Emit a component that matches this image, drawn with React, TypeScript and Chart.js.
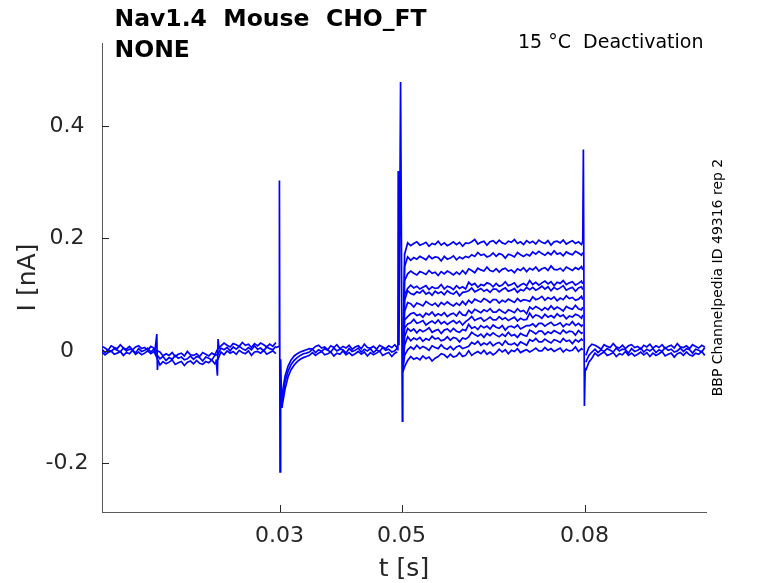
import React, { useEffect, useRef } from "react";
import { Chart, registerables } from "chart.js";
Chart.register(...registerables);

// ---- axis ticks ----
const xTicks = [0.03, 0.05, 0.08];
const yTicks = [-0.2, 0, 0.2, 0.4];

// ---- baseline before 0.03 s (three overlapping sweeps) ----
const tPreA = [
  0.0009, 0.0014, 0.0019, 0.0024, 0.0029, 0.0034, 0.0039, 0.0044, 0.0049, 0.0054, 0.0059, 0.0064, 0.0069, 0.0074, 0.0079, 0.0084, 0.0089, 0.0094,
  0.0099,
  0.0104, 0.0109, 0.0114, 0.0119, 0.0124, 0.0129, 0.0134, 0.0139, 0.0144, 0.0149, 0.0154, 0.0159, 0.0164, 0.0169, 0.0174, 0.0179, 0.0184, 0.0189, 0.0194,
  0.0199,
  0.0204, 0.0209, 0.0214, 0.0219, 0.0224, 0.0229, 0.0234, 0.0239, 0.0244, 0.0249, 0.0254, 0.0259, 0.0264, 0.0269, 0.0274, 0.0279, 0.0284, 0.0289, 0.0294,
];
const preA1 = [
  -0.002, -0.007, -0.003, 0.0, -0.006, -0.004, -0.001, -0.008, -0.003, -0.005, 0.001, -0.006, -0.002, -0.007, -0.004, 0.0, -0.005, -0.001,
  -0.012,
  -0.025, -0.019, -0.023, -0.02, -0.016, -0.024, -0.021, -0.019, -0.026, -0.02, -0.018, -0.023, -0.017, -0.022, -0.024, -0.019, -0.021, -0.016, -0.023,
  -0.015,
  -0.002, -0.007, 0.0, -0.004, -0.001, -0.006, 0.001, -0.003, -0.005, 0.0, -0.008, -0.002, -0.001, -0.004, 0.001, -0.006, -0.003, 0.0, -0.005,
];
const preA2 = [
  0.003, -0.003, 0.002, -0.001, 0.004, 0.001, -0.002, 0.005, 0.0, 0.003, 0.002, -0.004, 0.004, -0.001, 0.001, 0.005, -0.002, 0.003,
  -0.007,
  -0.014, -0.01, -0.017, -0.012, -0.015, -0.008, -0.013, -0.011, -0.016, -0.014, -0.009, -0.015, -0.01, -0.012, -0.018, -0.011, -0.013, -0.016, -0.008,
  -0.006,
  0.005, 0.002, 0.006, 0.0, 0.007, 0.003, 0.008, 0.004, 0.001, 0.006, 0.002, 0.009, 0.003, 0.005, 0.0, 0.007, 0.004, 0.002, 0.008,
];
const preA3 = [
  0.008, 0.005, 0.001, 0.009, 0.006, 0.004, 0.011, 0.005, 0.003, 0.008, 0.002, 0.007, 0.009, 0.004, 0.006, 0.001, 0.008, 0.005,
  0.0,
  -0.002, -0.009, -0.005, -0.008, -0.003, -0.01, -0.006, -0.004, -0.009, -0.001, -0.007, -0.008, -0.005, -0.01, -0.003, -0.006, -0.009, -0.004, -0.007,
  0.004,
  0.009, 0.014, 0.01, 0.007, 0.013, 0.011, 0.008, 0.015, 0.01, 0.012, 0.006, 0.013, 0.009, 0.014, 0.011, 0.007, 0.012, 0.008, 0.015,
];

// ---- small artefacts at 0.01 s and 0.02 s ----
const blip10T = [0.0096, 0.00988, 0.00998, 0.0101];
const blip10V = [0.002, 0.03, -0.034, -0.016];
const blip20T = [0.0196, 0.01982, 0.01992, 0.0201];
const blip20V = [-0.015, -0.044, 0.021, 0.003];

// ---- capacitive transient at 0.03 s ----
const spike30T = [0.0294, 0.02995, 0.02998, 0.03008, 0.03018, 0.03036, 0.0304];
const spike30V = [0.006, 0.008, 0.303, -0.215, -0.015, -0.1, -0.095];

// ---- recovery and baseline 0.03 - 0.05 s ----
const tPreB = [
  0.0304, 0.0309, 0.0314, 0.0319, 0.0324, 0.0329, 0.0334, 0.0339, 0.0344, 0.0349,
  0.0354, 0.0359, 0.0364, 0.0369, 0.0374, 0.0379, 0.0384, 0.0389, 0.0394, 0.0399,
  0.0404, 0.0409, 0.0414, 0.0419, 0.0424, 0.0429, 0.0434, 0.0439, 0.0444, 0.0449,
  0.0454, 0.0459, 0.0464, 0.0469, 0.0474, 0.0479, 0.0484, 0.0489, 0.0493,
];
const preB1 = [
  -0.1, -0.068, -0.046, -0.033, -0.025, -0.019, -0.015, -0.012, -0.01, -0.008,
  -0.003, -0.008, -0.004, -0.001, -0.007, -0.005, -0.002, -0.009, -0.004, -0.006,
  0.0, -0.007, -0.003, -0.008, -0.005, -0.001, -0.006, -0.002, -0.009, -0.003,
  -0.007, -0.004, 0.0, -0.008, -0.005, -0.003, -0.01, -0.004, -0.002,
];
const preB2 = [
  -0.09, -0.055, -0.036, -0.024, -0.017, -0.012, -0.008, -0.005, -0.004, -0.002,
  0.003, -0.003, 0.002, -0.001, 0.004, 0.001, -0.002, 0.005, 0.0, 0.003,
  0.002, -0.004, 0.004, -0.001, 0.001, 0.005, -0.002, 0.003, 0.0, 0.004,
  -0.003, 0.002, -0.001, 0.006, 0.001, 0.003, -0.002, 0.0, 0.005,
];
const preB3 = [
  -0.08, -0.045, -0.027, -0.016, -0.009, -0.005, -0.002, 0.0, 0.002, 0.004,
  0.003, 0.008, 0.01, 0.005, 0.007, 0.002, 0.009, 0.006, 0.011, 0.004,
  0.008, 0.005, 0.01, 0.003, 0.007, 0.009, 0.004, 0.012, 0.006, 0.005,
  0.008, 0.003, 0.01, 0.007, 0.004, 0.009, 0.006, 0.011, 0.005,
];

// ---- transient at 0.05 s ----
const spike50T = [0.0493, 0.0494, 0.04945, 0.04958, 0.04984, 0.05013, 0.0502];
const spike50V = [0.002, 0.004, 0.32, 0.01, 0.478, -0.125, -0.03];

// ---- deactivation step 0.05 - 0.08 s (12 sweeps) ----
const tStep = [
  0.0502, 0.0505,
  0.051, 0.0515, 0.052, 0.0525, 0.053, 0.0535, 0.054, 0.0545, 0.055, 0.0555,
  0.056, 0.0565, 0.057, 0.0575, 0.058, 0.0585, 0.059, 0.0595, 0.06, 0.0605,
  0.061, 0.0615, 0.062, 0.0625, 0.063, 0.0635, 0.064, 0.0645, 0.065, 0.0655,
  0.066, 0.0665, 0.067, 0.0675, 0.068, 0.0685, 0.069, 0.0695, 0.07, 0.0705,
  0.071, 0.0715, 0.072, 0.0725, 0.073, 0.0735, 0.074, 0.0745, 0.075, 0.0755,
  0.076, 0.0765, 0.077, 0.0775, 0.078, 0.0785, 0.079, 0.0795, 0.0797,
];
const sweep1 = [
  -0.03, 0.172,
  0.192, 0.187, 0.191, 0.194, 0.188, 0.19, 0.193, 0.186, 0.191, 0.189,
  0.195, 0.188, 0.192, 0.187, 0.19, 0.194, 0.189, 0.193, 0.186, 0.192,
  0.191, 0.194, 0.198, 0.19, 0.193, 0.195, 0.188, 0.194, 0.196, 0.191,
  0.197, 0.192, 0.19, 0.195, 0.193, 0.198, 0.191, 0.194, 0.189, 0.196,
  0.192, 0.195, 0.19, 0.197, 0.193, 0.191, 0.196, 0.188, 0.194, 0.195,
  0.192, 0.197, 0.19, 0.193, 0.196, 0.191, 0.194, 0.189, 0.195,
];
const sweep2 = [
  -0.03, 0.15,
  0.167, 0.161, 0.166, 0.163, 0.168, 0.165, 0.162, 0.169, 0.164, 0.167,
  0.166, 0.16, 0.168, 0.163, 0.165, 0.169, 0.162, 0.167, 0.164, 0.168,
  0.166, 0.171, 0.168, 0.175, 0.17, 0.172, 0.167, 0.169, 0.174, 0.168,
  0.173, 0.171, 0.165, 0.172, 0.17, 0.167, 0.175, 0.171, 0.168, 0.172,
  0.169, 0.176, 0.172, 0.177, 0.173, 0.17, 0.175, 0.171, 0.178, 0.172,
  0.174, 0.169, 0.176, 0.173, 0.171, 0.177, 0.174, 0.17, 0.175,
];
const sweep3 = [
  -0.03, 0.125,
  0.137, 0.142, 0.138, 0.135, 0.141, 0.139, 0.136, 0.143, 0.138, 0.14,
  0.134, 0.141, 0.137, 0.142, 0.139, 0.135, 0.14, 0.136, 0.143, 0.137,
  0.146, 0.143, 0.139, 0.147, 0.144, 0.142, 0.149, 0.143, 0.141, 0.146,
  0.14, 0.145, 0.147, 0.142, 0.144, 0.139, 0.146, 0.143, 0.148, 0.141,
  0.147, 0.144, 0.149, 0.142, 0.146, 0.148, 0.143, 0.151, 0.145, 0.144,
  0.147, 0.142, 0.149, 0.146, 0.143, 0.148, 0.145, 0.15, 0.144,
];
const sweep4 = [
  -0.03, 0.1,
  0.111, 0.117, 0.112, 0.115, 0.11, 0.113, 0.116, 0.109, 0.114, 0.111,
  0.112, 0.118, 0.11, 0.115, 0.113, 0.109, 0.116, 0.111, 0.114, 0.11,
  0.122, 0.117, 0.12, 0.113, 0.118, 0.116, 0.121, 0.119, 0.114, 0.12,
  0.115, 0.117, 0.123, 0.116, 0.118, 0.121, 0.113, 0.117, 0.12, 0.116,
  0.125, 0.118, 0.122, 0.117, 0.121, 0.124, 0.119, 0.123, 0.116, 0.122,
  0.12, 0.125, 0.118, 0.121, 0.123, 0.117, 0.12, 0.124, 0.119,
];
const sweep5 = [
  -0.03, 0.09,
  0.107, 0.102, 0.1, 0.105, 0.103, 0.108, 0.101, 0.104, 0.099, 0.106,
  0.102, 0.105, 0.1, 0.107, 0.103, 0.101, 0.106, 0.098, 0.104, 0.105,
  0.107, 0.112, 0.105, 0.108, 0.111, 0.106, 0.109, 0.104, 0.11, 0.11,
  0.105, 0.109, 0.112, 0.106, 0.108, 0.111, 0.104, 0.109, 0.107, 0.113,
  0.109, 0.113, 0.108, 0.111, 0.115, 0.11, 0.114, 0.107, 0.113, 0.109,
  0.112, 0.116, 0.108, 0.111, 0.113, 0.106, 0.112, 0.114, 0.109,
];
const sweep6 = [
  -0.03, 0.07,
  0.086, 0.084, 0.078, 0.085, 0.083, 0.08, 0.088, 0.084, 0.081, 0.085,
  0.079, 0.086, 0.082, 0.087, 0.083, 0.08, 0.085, 0.081, 0.088, 0.082,
  0.09, 0.085, 0.092, 0.089, 0.087, 0.093, 0.09, 0.086, 0.091, 0.091,
  0.085, 0.09, 0.087, 0.092, 0.089, 0.086, 0.093, 0.088, 0.091, 0.09,
  0.088, 0.096, 0.091, 0.093, 0.097, 0.09, 0.095, 0.092, 0.096, 0.089,
  0.094, 0.091, 0.098, 0.093, 0.095, 0.09, 0.092, 0.097, 0.091,
];
const sweep7 = [
  -0.03, 0.055,
  0.061, 0.066, 0.068, 0.063, 0.065, 0.06, 0.067, 0.064, 0.069, 0.062,
  0.066, 0.063, 0.068, 0.061, 0.065, 0.067, 0.062, 0.07, 0.064, 0.063,
  0.072, 0.067, 0.074, 0.071, 0.068, 0.073, 0.07, 0.075, 0.069, 0.069,
  0.074, 0.07, 0.067, 0.073, 0.071, 0.068, 0.075, 0.07, 0.072, 0.066,
  0.078, 0.074, 0.079, 0.076, 0.072, 0.077, 0.073, 0.08, 0.074, 0.078,
  0.075, 0.071, 0.079, 0.076, 0.074, 0.081, 0.075, 0.073, 0.078,
];
const sweep8 = [
  -0.03, 0.04,
  0.048, 0.05, 0.056, 0.049, 0.051, 0.054, 0.046, 0.05, 0.053, 0.049,
  0.055, 0.048, 0.052, 0.047, 0.051, 0.054, 0.049, 0.053, 0.046, 0.052,
  0.056, 0.061, 0.054, 0.057, 0.059, 0.053, 0.056, 0.06, 0.055, 0.055,
  0.061, 0.056, 0.059, 0.054, 0.057, 0.06, 0.053, 0.058, 0.055, 0.056,
  0.067, 0.059, 0.064, 0.062, 0.058, 0.065, 0.06, 0.063, 0.059, 0.066,
  0.061, 0.064, 0.057, 0.062, 0.06, 0.065, 0.063, 0.058, 0.064,
];
const sweep9 = [
  -0.032, 0.025,
  0.04, 0.035, 0.039, 0.032, 0.038, 0.034, 0.037, 0.041, 0.033, 0.036,
  0.038, 0.031, 0.037, 0.039, 0.034, 0.04, 0.035, 0.033, 0.038, 0.036,
  0.047, 0.04, 0.043, 0.038, 0.045, 0.041, 0.044, 0.039, 0.046, 0.042,
  0.04, 0.045, 0.037, 0.043, 0.044, 0.041, 0.046, 0.039, 0.042, 0.045,
  0.045, 0.048, 0.043, 0.049, 0.049, 0.044, 0.048, 0.051, 0.045, 0.047,
  0.05, 0.043, 0.048, 0.046, 0.052, 0.045, 0.049, 0.044, 0.047,
];
const sweep10 = [
  -0.033, 0.01,
  0.025, 0.018, 0.023, 0.02, 0.024, 0.017, 0.022, 0.019, 0.026, 0.021,
  0.023, 0.018, 0.02, 0.025, 0.019, 0.024, 0.022, 0.016, 0.023, 0.021,
  0.025, 0.033, 0.029, 0.026, 0.03, 0.024, 0.031, 0.027, 0.032, 0.028,
  0.025, 0.03, 0.026, 0.033, 0.027, 0.029, 0.024, 0.031, 0.028, 0.026,
  0.037, 0.034, 0.03, 0.035, 0.035, 0.029, 0.034, 0.031, 0.036, 0.033,
  0.03, 0.037, 0.032, 0.035, 0.034, 0.028, 0.036, 0.031, 0.033,
];
const sweep11 = [
  -0.035, -0.008,
  0.002, 0.007, 0.003, 0.01, 0.004, 0.008, 0.005, 0.001, 0.009, 0.006,
  0.004, 0.011, 0.005, 0.003, 0.008, 0.002, 0.007, 0.009, 0.004, 0.006,
  0.008, 0.015, 0.012, 0.017, 0.01, 0.014, 0.011, 0.016, 0.009, 0.013,
  0.015, 0.01, 0.018, 0.012, 0.011, 0.014, 0.009, 0.016, 0.013, 0.01,
  0.02, 0.017, 0.022, 0.016, 0.016, 0.021, 0.017, 0.014, 0.02, 0.018,
  0.015, 0.022, 0.017, 0.019, 0.013, 0.02, 0.016, 0.021, 0.018,
];
const sweep12 = [
  -0.038, -0.028,
  -0.017, -0.01, -0.015, -0.012, -0.016, -0.009, -0.014, -0.011, -0.018, -0.013,
  -0.01, -0.005, -0.007, -0.012, -0.006, -0.011, -0.009, -0.003, -0.01, -0.008,
  0.0, -0.008, -0.004, -0.001, -0.005, 0.001, -0.006, -0.002, -0.007, -0.003,
  0.003, -0.002, 0.002, -0.005, 0.001, -0.001, 0.004, -0.003, 0.0, 0.002,
  -0.002, 0.001, 0.005, 0.0, 0.0, 0.006, 0.001, 0.004, -0.001, 0.002,
  0.005, -0.002, 0.003, 0.0, 0.001, 0.007, -0.001, 0.004, 0.002,
];

// ---- transient at 0.08 s ----
const spike80T = [0.0797, 0.0798, 0.07997, 0.0801];
const spike80V = [0.193, 0.358, -0.098, -0.03];

// ---- baseline after 0.08 s (three overlapping sweeps) ----
const tPost = [
  0.0802, 0.0807, 0.0812, 0.0817, 0.0822, 0.0827, 0.0832, 0.0837, 0.0842, 0.0847,
  0.0852, 0.0857, 0.0862, 0.0867, 0.0872, 0.0877, 0.0882, 0.0887, 0.0892, 0.0897,
  0.0902, 0.0907, 0.0912, 0.0917, 0.0922, 0.0927, 0.0932, 0.0937, 0.0942, 0.0947,
  0.0952, 0.0957, 0.0962, 0.0967, 0.0972, 0.0977, 0.0982, 0.0987, 0.0992, 0.0997,
];
const post1 = [
  -0.035, -0.02, -0.013,
  -0.004, -0.009, -0.005, -0.002, -0.008, -0.006, -0.003, -0.01, -0.005, -0.007,
  -0.001, -0.008, -0.004, -0.009, -0.006, -0.002, -0.007, -0.003, -0.01, -0.004,
  -0.008, -0.005, -0.001, -0.009, -0.006, -0.004, -0.011, -0.005, -0.003, -0.008,
  -0.002, -0.007, -0.009, -0.004, -0.006, -0.001, -0.008,
];
const post2 = [
  -0.02, -0.008, -0.002,
  0.003, -0.003, 0.002, -0.001, 0.004, 0.001, -0.002, 0.005, 0.0, 0.003,
  0.002, -0.004, 0.004, -0.001, 0.001, 0.005, -0.002, 0.003, 0.0, 0.004,
  -0.003, 0.002, -0.001, 0.006, 0.001, 0.003, -0.002, 0.0, 0.005, -0.001,
  0.004, 0.002, -0.004, 0.003, 0.001, -0.002, 0.006,
];
const post3 = [
  -0.008, 0.006, 0.012,
  0.01, 0.007, 0.003, 0.011, 0.008, 0.006, 0.013, 0.007, 0.005, 0.01,
  0.004, 0.009, 0.011, 0.006, 0.008, 0.003, 0.01, 0.007, 0.012, 0.005,
  0.009, 0.006, 0.011, 0.004, 0.008, 0.01, 0.005, 0.013, 0.007, 0.006,
  0.009, 0.004, 0.011, 0.008, 0.005, 0.01, 0.007,
];

const BLUE = "#0000ff";
const AXIS = "#262626";
const FONT = "DejaVu Sans";

const line = (t: number[], v: number[]) => ({
  data: t.slice(0, Math.min(t.length, v.length)).map((x, i) => ({ x, y: v[i] })),
  borderColor: BLUE,
  backgroundColor: BLUE,
  borderWidth: 1.7,
  pointRadius: 0,
  fill: false,
  tension: 0,
});

const decor = {
  id: "decor",
  afterDraw(chart: any) {
    const { ctx, chartArea: a, scales } = chart;
    ctx.save();
    // inward tick marks
    ctx.strokeStyle = AXIS;
    ctx.lineWidth = 1;
    ctx.beginPath();
    xTicks.forEach((v) => {
      const px = Math.round(scales.x.getPixelForValue(v)) + 0.5;
      ctx.moveTo(px, a.bottom);
      ctx.lineTo(px, a.bottom - 7);
    });
    yTicks.forEach((v) => {
      const py = Math.round(scales.y.getPixelForValue(v)) + 0.5;
      ctx.moveTo(a.left, py);
      ctx.lineTo(a.left + 7, py);
    });
    ctx.stroke();

    // title
    ctx.fillStyle = "#000";
    ctx.textAlign = "left";
    ctx.textBaseline = "alphabetic";
    ctx.font = `bold 23.5px "${FONT}"`;
    ctx.fillText("Nav1.4  Mouse  CHO_FT", 114.5, 26);
    ctx.fillText("NONE", 114.5, 56.5);

    ctx.font = `19px "${FONT}"`;
    ctx.textAlign = "right";
    ctx.fillText("15 °C  Deactivation", 703.5, 47.5);

    // axis titles
    ctx.fillStyle = AXIS;
    ctx.font = `25px "${FONT}"`;
    ctx.textAlign = "center";
    ctx.fillText("t [s]", (a.left + a.right) / 2, 576);

    ctx.save();
    ctx.translate(35, (a.top + a.bottom) / 2);
    ctx.rotate(-Math.PI / 2);
    ctx.fillText("I [nA]", 0, 0);
    ctx.restore();

    // side note
    ctx.save();
    ctx.fillStyle = "#000";
    ctx.font = `14px "${FONT}"`;
    ctx.translate(721.5, 277.5);
    ctx.rotate(-Math.PI / 2);
    ctx.textAlign = "center";
    ctx.fillText("BBP Channelpedia ID 49316 rep 2", 0, 0);
    ctx.restore();

    ctx.restore();
  },
};

export default function App() {
  const ref = useRef<HTMLCanvasElement>(null);
  useEffect(() => {
    const canvas = ref.current;
    if (!canvas) return;
    const sweeps = [sweep1, sweep2, sweep3, sweep4, sweep5, sweep6, sweep7, sweep8, sweep9, sweep10, sweep11, sweep12];
    const datasets: any[] = [
      line(tPreA, preA1),
      line(tPreA, preA2),
      line(tPreA, preA3),
      line(blip10T, blip10V),
      line(blip20T, blip20V),
      line(spike30T, spike30V),
      line(tPreB, preB1),
      line(tPreB, preB2),
      line(tPreB, preB3),
      line(spike50T, spike50V),
      ...sweeps.map((s) => line(tStep, s)),
      line(spike80T, spike80V),
      line(tPost, post1),
      line(tPost, post2),
      line(tPost, post3),
    ];
    const chart = new Chart(canvas, {
      type: "line",
      data: { datasets },
      options: {
        animation: false,
        responsive: false,
        events: [],
        layout: { padding: { left: 0, top: 43, right: 72, bottom: 0 } },
        plugins: {
          legend: { display: false },
          tooltip: { enabled: false },
          title: { display: false },
        },
        scales: {
          x: {
            type: "linear",
            min: 0.0009,
            max: 0.0999,
            afterBuildTicks: (s: any) => {
              s.ticks = xTicks.map((value) => ({ value }));
            },
            afterFit: (s: any) => {
              s.height = 71;
            },
            grid: { display: false, drawTicks: false },
            border: { display: true, color: "#5a5a5a", width: 1 },
            ticks: {
              autoSkip: false,
              maxRotation: 0,
              padding: 11,
              color: AXIS,
              font: { family: FONT, size: 22 },
              callback: (v: any) => String(v),
            },
          },
          y: {
            type: "linear",
            min: -0.2865,
            max: 0.5475,
            afterBuildTicks: (s: any) => {
              s.ticks = yTicks.map((value) => ({ value }));
            },
            afterFit: (s: any) => {
              s.width = 102;
            },
            grid: { display: false, drawTicks: false },
            border: { display: true, color: "#5a5a5a", width: 1 },
            ticks: {
              autoSkip: false,
              padding: 13.5,
              crossAlign: "center",
              color: AXIS,
              font: { family: FONT, size: 22 },
              callback: (v: any) => String(v),
            },
          },
        },
      } as any,
      plugins: [decor],
    });
    return () => chart.destroy();
  }, []);
  return (
    <div style={{ position: "absolute", left: 0, top: 0, width: 778, height: 583, background: "#fff" }}>
      <canvas ref={ref} width={778} height={583} style={{ display: "block", width: 778, height: 583 }} />
    </div>
  );
}
